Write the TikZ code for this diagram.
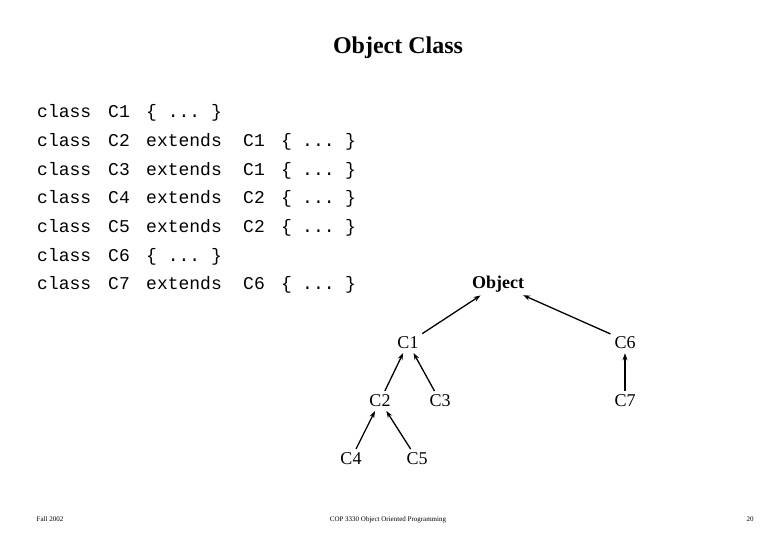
\documentclass[tikz,border=0pt]{standalone}
\usepackage{fontspec}
\setmainfont{Liberation Serif}
\setmonofont[Ligatures=NoCommon]{Liberation Mono}
\usetikzlibrary{arrows.meta}
\newcommand{\dts}{.{}.{}.}
\newcommand{\body}{\{ \dts{} \}}
\tikzstyle{code}=[inner sep=0pt, anchor=base west, font=\fontsize{18}{20}\selectfont\ttfamily]
\tikzstyle{cls}=[inner sep=2pt, font=\fontsize{18}{20}\selectfont]
\tikzstyle{foot}=[inner sep=0pt, anchor=base, font=\fontsize{7}{8}\selectfont]
\tikzstyle{inh}=[line width=1.3pt, -{Stealth[length=7pt,width=5pt]}, shorten <=2pt, shorten >=2pt]

\begin{document}
\begin{tikzpicture}[x=1pt, y=-1pt]
\useasboundingbox (0,0) rectangle (780,540);
\node[font=\fontsize{24}{26}\selectfont\bfseries] (title) at (398,48) {Object Class};

% source lines
\foreach \i/\a/\b/\c/\d/\e/\f in {1/C1/\body////,
  2/C2/extends/C1/\{/\dts/\},
  3/C3/extends/C1/\{/\dts/\},
  4/C4/extends/C2/\{/\dts/\},
  5/C5/extends/C2/\{/\dts/\},
  6/C6/\body////,
  7/C7/extends/C6/\{/\dts/\}}
{
\pgfmathsetmacro{\yy}{89+28.7*\i}
\node[code] (k\i) at (37,\yy) {class};
\node[code] (n\i) at (108,\yy) {\a};
\node[code] (b\i) at (146,\yy) {\b};
\node[code] (p\i) at (243,\yy) {\c};
\node[code] (o\i) at (281,\yy) {\d};
\node[code] (d\i) at (302,\yy) {\e};
\node[code] (e\i) at (345,\yy) {\f};
}

% hierarchy
\node[cls, font=\fontsize{18}{20}\selectfont\bfseries] (obj) at (498,284) {Object};
\node[cls] (c1) at (408,343) {C1};
\node[cls] (c6) at (625,343) {C6};
\node[cls] (c2) at (380,401) {C2};
\node[cls] (c3) at (440,401) {C3};
\node[cls] (c7) at (625,401) {C7};
\node[cls] (c4) at (351,459) {C4};
\node[cls] (c5) at (417,459) {C5};
\draw[inh] (c1) -- (obj);
\draw[inh] (c6.north west) -- (obj);
\draw[inh] (c2) -- (c1);
\draw[inh] (c3) -- (c1);
\draw[inh] (c4) -- (c2);
\draw[inh] (c5) -- (c2);
\draw[inh] (c7) -- (c6);

\node[foot] (f1) at (50,521) {Fall 2002};
\node[foot] (f2) at (388,521) {COP 3330 Object Oriented Programming};
\node[foot] (f3) at (750,521) {20};
\end{tikzpicture}
\end{document}
